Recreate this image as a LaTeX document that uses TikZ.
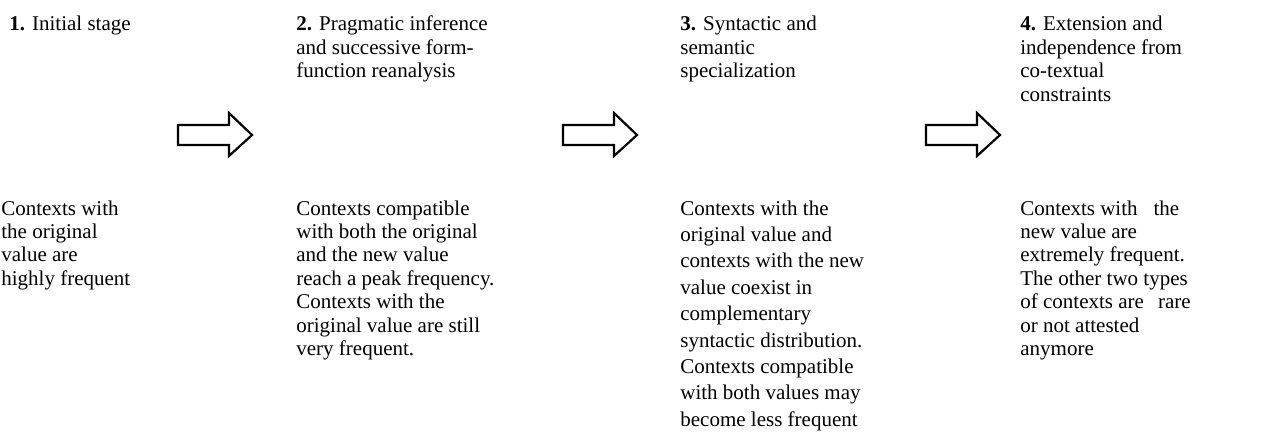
\documentclass[tikz,border=0pt]{standalone}
\usepackage{fontspec}
\setmainfont{Liberation Serif}
\newcommand\stagetext[1]{\parbox[t]{150pt}{\raggedright #1}}
\begin{document}
\begin{tikzpicture}[x=0.5pt,y=-0.5pt,
  stage/.style={anchor=base west, inner sep=0pt, font=\fontsize{10.5pt}{11.7pt}\selectfont},
  widestage/.style={stage, font=\fontsize{10.5pt}{13.2pt}\selectfont},
  blockarrow/.style={draw=black, line width=1.1pt, fill=white, line join=miter}]
\useasboundingbox[fill=white] (0,0) rectangle (1265,439);

% stage headings
\node[stage] (h1) at (9,31)    {\stagetext{\textbf{1.} Initial stage}};
\node[stage] (h2) at (296,31)  {\stagetext{\textbf{2.} Pragmatic inference\\and successive form-\\function reanalysis}};
\node[stage] (h3) at (680,31)  {\stagetext{\textbf{3.} Syntactic and\\semantic\\specialization}};
\node[stage] (h4) at (1020,31) {\stagetext{\textbf{4.} Extension and\\independence from\\co-textual\\constraints}};

% stage descriptions
\node[stage] (d1) at (1,215)    {\stagetext{Contexts with\\the original\\value are\\highly frequent}};
\node[stage] (d2) at (296,215)  {\stagetext{Contexts compatible\\with both the original\\and the new value\\reach a peak frequency.\\Contexts with the\\original value are still\\very frequent.}};
\node[widestage] (d3) at (680,215) {\stagetext{Contexts with the\\original value and\\contexts with the new\\value coexist in\\complementary\\syntactic distribution.\\Contexts compatible\\with both values may\\become less frequent}};
\node[stage] (d4) at (1020,215) {\stagetext{Contexts with\hspace{8pt}the\\new value are\\extremely frequent.\\The other two types\\of contexts are\hspace{7pt}rare\\or not attested\\anymore}};

% block arrows between the stages
\coordinate (a1) at (178,135);
\coordinate (a2) at (563,135);
\coordinate (a3) at (926,135);
\foreach \a in {a1,a2,a3}
  \draw[blockarrow] (\a) ++(0,-10) -- ++(51,0) -- ++(0,-12) -- ++(23,22)
    -- ++(-23,21) -- ++(0,-11) -- ++(-51,0) -- cycle;
\end{tikzpicture}
\end{document}
